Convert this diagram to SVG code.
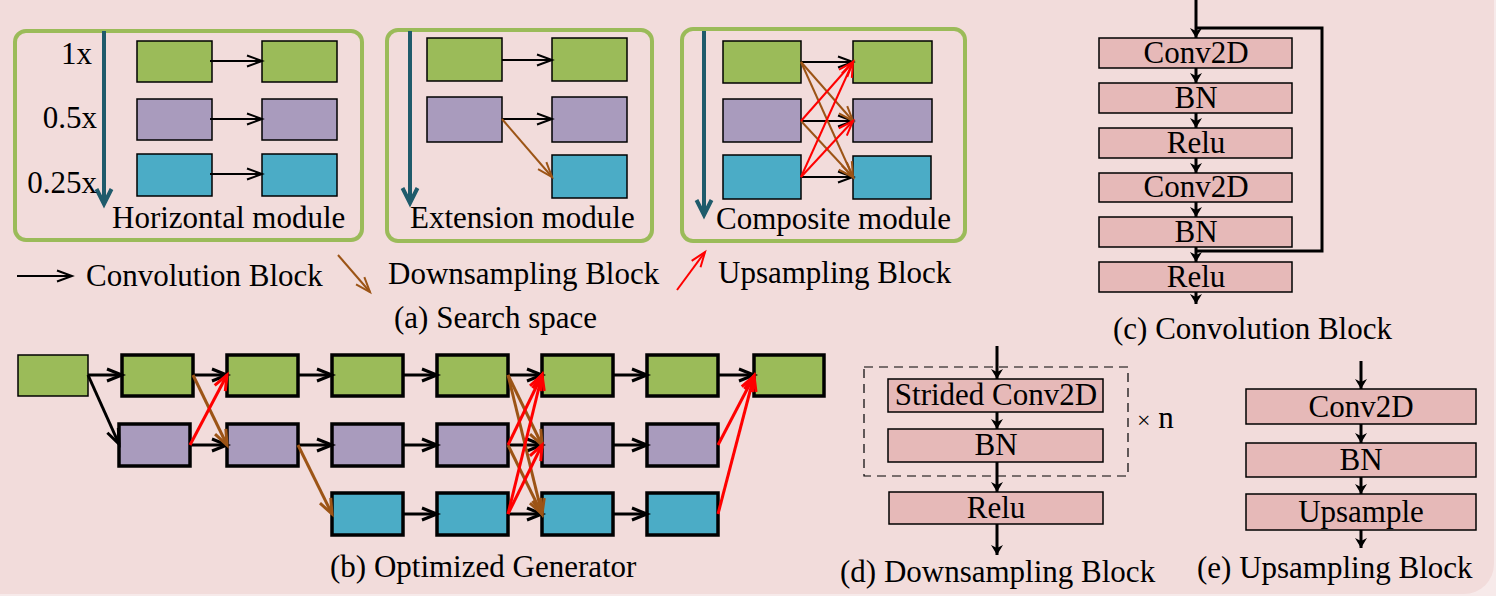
<svg xmlns="http://www.w3.org/2000/svg" width="1496" height="596" viewBox="0 0 1496 596">
<style>
text{font-family:"Liberation Serif","Times New Roman",serif;font-size:31px;fill:#000}
.panel{fill:none;stroke:#9bbb59;stroke-width:4}
.g{fill:#9bbb59}
.p{fill:#a99bbd}
.t{fill:#4bacc6}
.bx{stroke:#000;stroke-width:1.5}
.gb{stroke:#000;stroke-width:3.5}
.rb{fill:#e6b9b8;stroke:#000;stroke-width:1.5}
.ax{stroke:#1f5b6b;stroke-width:4;fill:none}
.k{stroke:#000;stroke-width:2;fill:none}
.b{stroke:#9c5416;stroke-width:2;fill:none}
.r{stroke:#ff0000;stroke-width:2;fill:none}
.k3{stroke:#000;stroke-width:3;fill:none}
.b3{stroke:#9c5416;stroke-width:3;fill:none}
.r3{stroke:#ff0000;stroke-width:3;fill:none}
.v{stroke:#000;stroke-width:3;fill:none}
.c{text-anchor:middle}
.e{text-anchor:end}
</style>
<defs>
<marker id="mk" markerUnits="userSpaceOnUse" viewBox="-18 -9 20 18" markerWidth="20" markerHeight="18" orient="auto" overflow="visible"><path d="M-15,-5.5 L0,0 L-15,5.5" fill="none" stroke="#000" stroke-width="2"/></marker>
<marker id="mb" markerUnits="userSpaceOnUse" viewBox="-18 -9 20 18" markerWidth="20" markerHeight="18" orient="auto" overflow="visible"><path d="M-15,-5.5 L0,0 L-15,5.5" fill="none" stroke="#9c5416" stroke-width="2"/></marker>
<marker id="mr" markerUnits="userSpaceOnUse" viewBox="-18 -9 20 18" markerWidth="20" markerHeight="18" orient="auto" overflow="visible"><path d="M-15,-5.5 L0,0 L-15,5.5" fill="none" stroke="#ff0000" stroke-width="2"/></marker>
<marker id="mk3" markerUnits="userSpaceOnUse" viewBox="-18 -9 20 18" markerWidth="20" markerHeight="18" orient="auto" overflow="visible"><path d="M-15,-6 L0,0 L-15,6" fill="none" stroke="#000" stroke-width="3"/></marker>
<marker id="mb3" markerUnits="userSpaceOnUse" viewBox="-18 -9 20 18" markerWidth="20" markerHeight="18" orient="auto" overflow="visible"><path d="M-15,-6 L0,0 L-15,6" fill="none" stroke="#9c5416" stroke-width="3"/></marker>
<marker id="mr3" markerUnits="userSpaceOnUse" viewBox="-18 -9 20 18" markerWidth="20" markerHeight="18" orient="auto" overflow="visible"><path d="M-15,-6 L0,0 L-15,6" fill="none" stroke="#ff0000" stroke-width="3"/></marker>
<marker id="mx" markerUnits="userSpaceOnUse" viewBox="-18 -9 20 18" markerWidth="20" markerHeight="18" orient="auto" overflow="visible"><path d="M-15,-7.5 L0,0 L-15,7.5" fill="none" stroke="#1f5b6b" stroke-width="4"/></marker>
<marker id="mv" markerUnits="userSpaceOnUse" viewBox="-12 -8 14 16" markerWidth="14" markerHeight="16" orient="auto" overflow="visible"><path d="M-10,-6 L0,0 L-10,6 L-7,0 z" fill="#000"/></marker>
</defs>
<rect x="0" y="0" width="1496" height="596" fill="#f7eaea"/>
<rect x="-30" y="-30" width="1524" height="624" rx="30" fill="#f2dcdb"/>

<!-- (a) Search space -->
<g id="horizontal-module">
<rect class="panel" x="15" y="31" width="347" height="209" rx="11"/>
<line class="ax" x1="104" y1="31" x2="104" y2="204" marker-end="url(#mx)"/>
<text class="e" x="92" y="64">1x</text>
<text class="e" x="97" y="128">0.5x</text>
<text class="e" x="97" y="193">0.25x</text>
<rect class="g bx" x="137" y="41" width="75" height="41"/>
<rect class="g bx" x="262" y="41" width="75" height="41"/>
<rect class="p bx" x="137" y="99" width="75" height="41"/>
<rect class="p bx" x="262" y="99" width="75" height="41"/>
<rect class="t bx" x="137" y="154" width="75" height="42"/>
<rect class="t bx" x="262" y="154" width="75" height="42"/>
<text x="112" y="228">Horizontal module</text>
</g>
<g id="extension-module">
<rect class="panel" x="387" y="30" width="265" height="211" rx="11"/>
<line class="ax" x1="410" y1="31" x2="410" y2="203" marker-end="url(#mx)"/>
<rect class="g bx" x="427" y="38" width="75" height="43"/>
<rect class="g bx" x="552" y="38" width="75" height="43"/>
<rect class="p bx" x="427" y="97" width="75" height="45"/>
<rect class="p bx" x="552" y="97" width="75" height="45"/>
<rect class="t bx" x="552" y="155" width="75" height="43"/>
<text x="410" y="228">Extension module</text>
</g>
<g id="composite-module">
<rect class="panel" x="682" y="29" width="283" height="212" rx="11"/>
<line class="ax" x1="704" y1="31" x2="704" y2="215" marker-end="url(#mx)"/>
<rect class="g bx" x="723" y="41" width="78" height="42"/>
<rect class="g bx" x="853" y="41" width="79" height="42"/>
<rect class="p bx" x="723" y="99" width="78" height="43"/>
<rect class="p bx" x="853" y="99" width="79" height="43"/>
<rect class="t bx" x="723" y="155" width="78" height="44"/>
<rect class="t bx" x="853" y="156" width="78" height="43"/>
<text x="716" y="229">Composite module</text>
</g>
<g id="legend">
<text x="86" y="286">Convolution Block</text>
<text x="388" y="284">Downsampling Block</text>
<text x="718" y="283">Upsampling Block</text>
<text x="394" y="328">(a) Search space</text>
</g>

<!-- (b) Optimized Generator -->
<g id="generator">
<rect class="g bx" x="18" y="355" width="70" height="41"/>
<rect class="g gb" x="122" y="355" width="71" height="41"/>
<rect class="p gb" x="119" y="424" width="71" height="42"/>
<rect class="g gb" x="227" y="355" width="71" height="41"/>
<rect class="p gb" x="227" y="424" width="71" height="42"/>
<rect class="g gb" x="332" y="355" width="71" height="41"/>
<rect class="p gb" x="332" y="424" width="71" height="42"/>
<rect class="t gb" x="332" y="493" width="71" height="42"/>
<rect class="g gb" x="437" y="355" width="71" height="41"/>
<rect class="p gb" x="437" y="424" width="71" height="42"/>
<rect class="t gb" x="437" y="493" width="71" height="42"/>
<rect class="g gb" x="542" y="355" width="71" height="41"/>
<rect class="p gb" x="542" y="424" width="71" height="42"/>
<rect class="t gb" x="542" y="493" width="71" height="42"/>
<rect class="g gb" x="647" y="355" width="71" height="41"/>
<rect class="p gb" x="647" y="424" width="71" height="42"/>
<rect class="t gb" x="647" y="493" width="71" height="42"/>
<rect class="g gb" x="754" y="355" width="70" height="41"/>
<text x="330" y="577">(b) Optimized Generator</text>
</g>

<!-- (c) Convolution Block -->
<g id="conv-block">
<rect class="rb" x="1099" y="38" width="193" height="30"/>
<text class="c" x="1196" y="63">Conv2D</text>
<rect class="rb" x="1099" y="83" width="193" height="30"/>
<text class="c" x="1196" y="108">BN</text>
<rect class="rb" x="1099" y="128" width="193" height="30"/>
<text class="c" x="1196" y="153">Relu</text>
<rect class="rb" x="1099" y="173" width="193" height="29"/>
<text class="c" x="1196" y="197">Conv2D</text>
<rect class="rb" x="1099" y="217" width="193" height="30"/>
<text class="c" x="1196" y="242">BN</text>
<rect class="rb" x="1099" y="262" width="193" height="30"/>
<text class="c" x="1196" y="287">Relu</text>
<text x="1113" y="339">(c) Convolution Block</text>
</g>

<!-- (d) Downsampling Block -->
<g id="downsampling-block">
<rect x="864" y="367" width="264" height="109" fill="none" stroke="#000" stroke-width="1.2" stroke-dasharray="9,6"/>
<rect class="rb" x="888" y="379" width="215" height="33"/>
<text class="c" x="996" y="405">Strided Conv2D</text>
<rect class="rb" x="888" y="429" width="215" height="33"/>
<text class="c" x="996" y="455">BN</text>
<rect class="rb" x="889" y="492" width="214" height="32"/>
<text class="c" x="996" y="518">Relu</text>
<text x="1137" y="428"><tspan font-size="24">×</tspan> n</text>
<text x="840" y="582">(d) Downsampling Block</text>
</g>

<!-- (e) Upsampling Block -->
<g id="upsampling-block">
<rect class="rb" x="1246" y="389" width="230" height="35"/>
<text class="c" x="1361" y="417">Conv2D</text>
<rect class="rb" x="1246" y="443" width="230" height="34"/>
<text class="c" x="1361" y="470">BN</text>
<rect class="rb" x="1246" y="494" width="230" height="36"/>
<text class="c" x="1361" y="522">Upsample</text>
<text x="1197" y="578">(e) Upsampling Block</text>
</g>

<g id="connectors">
<!-- horizontal module -->
<line class="k" x1="210" y1="61" x2="262" y2="61" marker-end="url(#mk)"/>
<line class="k" x1="210" y1="119" x2="262" y2="119" marker-end="url(#mk)"/>
<line class="k" x1="210" y1="174" x2="262" y2="174" marker-end="url(#mk)"/>
<!-- extension module -->
<line class="k" x1="502" y1="60" x2="552" y2="60" marker-end="url(#mk)"/>
<line class="k" x1="502" y1="119" x2="552" y2="119" marker-end="url(#mk)"/>
<line class="b" x1="502" y1="119" x2="552" y2="177" marker-end="url(#mb)"/>
<!-- composite module -->
<line class="k" x1="801" y1="62" x2="853" y2="62" marker-end="url(#mk)"/>
<line class="k" x1="801" y1="121" x2="853" y2="121" marker-end="url(#mk)"/>
<line class="k" x1="801" y1="177" x2="853" y2="177" marker-end="url(#mk)"/>
<line class="b" x1="801" y1="62" x2="853" y2="121" marker-end="url(#mb)"/>
<line class="b" x1="801" y1="62" x2="853" y2="177" marker-end="url(#mb)"/>
<line class="b" x1="801" y1="121" x2="853" y2="177" marker-end="url(#mb)"/>
<line class="r" x1="801" y1="121" x2="853" y2="62" marker-end="url(#mr)"/>
<line class="r" x1="801" y1="177" x2="853" y2="62" marker-end="url(#mr)"/>
<line class="r" x1="801" y1="177" x2="853" y2="121" marker-end="url(#mr)"/>
<!-- legend -->
<line class="k" x1="17" y1="276" x2="72" y2="276" marker-end="url(#mk)"/>
<line class="b" x1="338" y1="255" x2="370" y2="292" marker-end="url(#mb)"/>
<line class="r" x1="677" y1="290" x2="705" y2="252" marker-end="url(#mr)"/>
<!-- generator -->
<line class="k3" x1="88" y1="375" x2="122" y2="375" marker-end="url(#mk3)"/>
<line class="k3" x1="88" y1="375" x2="119" y2="444" marker-end="url(#mk3)"/>
<line class="k3" x1="193" y1="375" x2="227" y2="375" marker-end="url(#mk3)"/>
<line class="k3" x1="190" y1="445" x2="227" y2="445" marker-end="url(#mk3)"/>
<line class="b3" x1="193" y1="375" x2="227" y2="445" marker-end="url(#mb3)"/>
<line class="r3" x1="190" y1="445" x2="227" y2="375" marker-end="url(#mr3)"/>
<line class="k3" x1="298" y1="375" x2="332" y2="375" marker-end="url(#mk3)"/>
<line class="k3" x1="298" y1="445" x2="332" y2="445" marker-end="url(#mk3)"/>
<line class="b3" x1="298" y1="445" x2="332" y2="514" marker-end="url(#mb3)"/>
<line class="k3" x1="403" y1="375" x2="437" y2="375" marker-end="url(#mk3)"/>
<line class="k3" x1="403" y1="445" x2="437" y2="445" marker-end="url(#mk3)"/>
<line class="k3" x1="403" y1="514" x2="437" y2="514" marker-end="url(#mk3)"/>
<line class="k3" x1="508" y1="375" x2="542" y2="375" marker-end="url(#mk3)"/>
<line class="k3" x1="508" y1="445" x2="542" y2="445" marker-end="url(#mk3)"/>
<line class="k3" x1="508" y1="514" x2="542" y2="514" marker-end="url(#mk3)"/>
<line class="b3" x1="508" y1="375" x2="542" y2="445" marker-end="url(#mb3)"/>
<line class="b3" x1="508" y1="375" x2="542" y2="514" marker-end="url(#mb3)"/>
<line class="b3" x1="508" y1="445" x2="542" y2="514" marker-end="url(#mb3)"/>
<line class="r3" x1="508" y1="445" x2="542" y2="375" marker-end="url(#mr3)"/>
<line class="r3" x1="508" y1="514" x2="542" y2="375" marker-end="url(#mr3)"/>
<line class="r3" x1="508" y1="514" x2="542" y2="445" marker-end="url(#mr3)"/>
<line class="k3" x1="613" y1="375" x2="647" y2="375" marker-end="url(#mk3)"/>
<line class="k3" x1="613" y1="445" x2="647" y2="445" marker-end="url(#mk3)"/>
<line class="k3" x1="613" y1="514" x2="647" y2="514" marker-end="url(#mk3)"/>
<line class="k3" x1="718" y1="375" x2="754" y2="375" marker-end="url(#mk3)"/>
<line class="r3" x1="718" y1="445" x2="754" y2="376" marker-end="url(#mr3)"/>
<line class="r3" x1="718" y1="514" x2="754" y2="376" marker-end="url(#mr3)"/>
<!-- conv block -->
<line class="v" x1="1196" y1="0" x2="1196" y2="38" marker-end="url(#mv)"/>
<polyline class="v" points="1196,28 1322,28 1322,251 1196,251"/>
<line class="v" x1="1196" y1="68" x2="1196" y2="83" marker-end="url(#mv)"/>
<line class="v" x1="1196" y1="113" x2="1196" y2="128" marker-end="url(#mv)"/>
<line class="v" x1="1196" y1="158" x2="1196" y2="173" marker-end="url(#mv)"/>
<line class="v" x1="1196" y1="202" x2="1196" y2="217" marker-end="url(#mv)"/>
<line class="v" x1="1196" y1="247" x2="1196" y2="262" marker-end="url(#mv)"/>
<line class="v" x1="1196" y1="292" x2="1196" y2="304" marker-end="url(#mv)"/>
<!-- downsampling block -->
<line class="v" x1="997" y1="346" x2="997" y2="379" marker-end="url(#mv)"/>
<line class="v" x1="997" y1="412" x2="997" y2="429" marker-end="url(#mv)"/>
<line class="v" x1="997" y1="462" x2="997" y2="492" marker-end="url(#mv)"/>
<line class="v" x1="997" y1="524" x2="997" y2="555" marker-end="url(#mv)"/>
<!-- upsampling block -->
<line class="v" x1="1361" y1="361" x2="1361" y2="389" marker-end="url(#mv)"/>
<line class="v" x1="1361" y1="424" x2="1361" y2="443" marker-end="url(#mv)"/>
<line class="v" x1="1361" y1="477" x2="1361" y2="494" marker-end="url(#mv)"/>
<line class="v" x1="1361" y1="530" x2="1361" y2="548" marker-end="url(#mv)"/>
</g>
</svg>
